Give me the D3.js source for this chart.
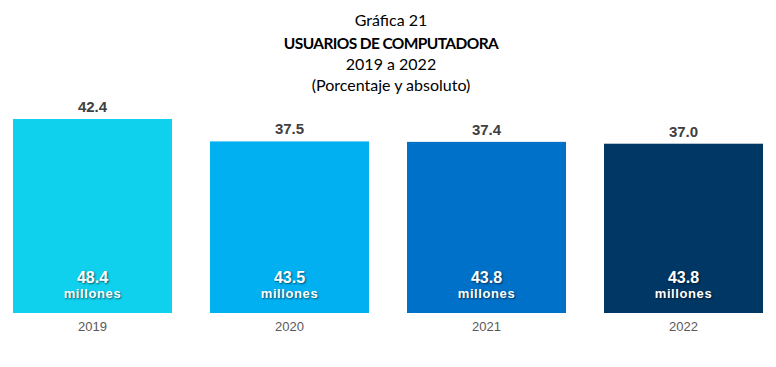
<!doctype html>
<html>
  <head>
    <meta charset="utf-8">
    <title>Usuarios de computadora</title>
    <script src="https://cdnjs.cloudflare.com/ajax/libs/d3/7.8.5/d3.min.js"></script>
    <style>
      body { margin: 0; background: #fff; }
      .title { font-family: Lato, "Open Sans", sans-serif; fill: #000; }
      .inner { text-shadow: 1px 1px 2px rgba(0,0,0,0.55); }
    </style>
  </head>
  <body>
    <div id="chart"></div>
    <script>
      // chart data
      const years = ['2019', '2020', '2021', '2022'];
      const pct = [42.4, 37.5, 37.4, 37.0];
      const millions = [48.4, 43.5, 43.8, 43.8];
      const colors = ['#0fd1ee', '#00b0f0', '#0071c8', '#003764'];
      const titleLines = ['Gráfica 21', 'USUARIOS DE COMPUTADORA', '2019 a 2022', '(Porcentaje y absoluto)'];

      const data = years.map((y, i) => ({ year: y, pct: pct[i], mil: millions[i], color: colors[i] }));

      const width = 776, height = 367;
      const svg = d3.select('#chart')
        .append('svg')
        .attr('width', width)
        .attr('height', height);

      // titles
      svg.selectAll('.title')
        .data(titleLines)
        .join('text')
        .attr('class', 'title')
        .attr('x', 391)
        .attr('y', (d, i) => [26, 49, 70, 91][i])
        .attr('text-anchor', 'middle')
        .attr('font-size', (d, i) => i === 1 ? 15.5 : 16)
        .attr('letter-spacing', (d, i) => i === 1 ? -0.6 : 0)
        .attr('font-weight', (d, i) => i === 1 ? 'bold' : 'normal')
        .text(d => d);

      const x = d3.scaleBand()
        .domain(years)
        .range([13, 763])
        .paddingInner(0.193)
        .paddingOuter(0);

      const y = d3.scaleLinear()
        .domain([0, 42.4])
        .range([313, 119]);

      svg.selectAll('rect')
        .data(data)
        .join('rect')
        .attr('x', d => x(d.year))
        .attr('y', d => y(d.pct))
        .attr('width', x.bandwidth())
        .attr('height', d => y(0) - y(d.pct))
        .style('fill', d => d.color);

      // percentage labels above bars
      svg.selectAll('.pct')
        .data(data)
        .join('text')
        .attr('class', 'pct')
        .attr('x', d => x(d.year) + x.bandwidth() / 2)
        .attr('y', d => y(d.pct) - 7)
        .attr('text-anchor', 'middle')
        .attr('font-family', 'Liberation Sans, Arial, sans-serif')
        .attr('font-weight', 'bold')
        .attr('font-size', 15)
        .style('fill', '#404040')
        .text(d => d.pct.toFixed(1));

      // absolute values inside bars: number and unit as separate texts
      const cx = d => x(d.year) + x.bandwidth() / 2;

      svg.selectAll('.inner-val')
        .data(data)
        .join('text')
        .attr('class', 'inner inner-val')
        .attr('x', cx)
        .attr('y', 283)
        .attr('text-anchor', 'middle')
        .attr('font-family', 'Liberation Sans, Arial, sans-serif')
        .attr('font-weight', 'bold')
        .attr('font-size', 16)
        .style('fill', '#fff')
        .text(d => d.mil.toFixed(1));

      svg.selectAll('.inner-unit')
        .data(data)
        .join('text')
        .attr('class', 'inner inner-unit')
        .attr('x', cx)
        .attr('y', 298)
        .attr('text-anchor', 'middle')
        .attr('font-family', 'Liberation Sans, Arial, sans-serif')
        .attr('font-weight', 'bold')
        .attr('font-size', 13)
        .attr('letter-spacing', 0.6)
        .style('fill', '#fff')
        .text('millones');

      // x axis labels
      const xAxis = d3.axisBottom(x).tickSize(0).tickPadding(8);
      svg.append('g')
        .attr('transform', 'translate(0,322)')
        .call(xAxis)
        .call(g => g.select('.domain').remove())
        .selectAll('text')
        .attr('font-family', 'Liberation Sans, Arial, sans-serif')
        .attr('font-size', 13)
        .attr('dy', 0)
        .attr('y', 9)
        .style('fill', '#595959');
    </script>
  </body>
</html>
